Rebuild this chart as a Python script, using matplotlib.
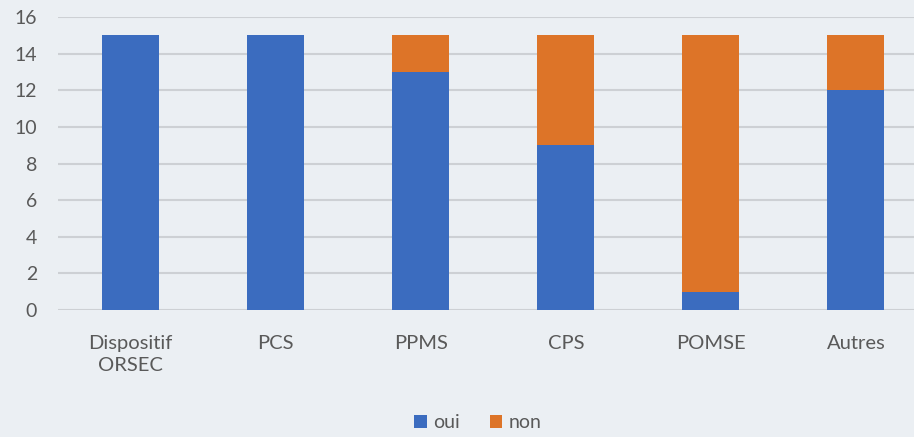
import matplotlib
matplotlib.use("Agg")
import matplotlib.pyplot as plt
import numpy as np

# Survey answers per planning document
categories = ["Dispositif\nORSEC", "PCS", "PPMS", "CPS", "POMSE", "Autres"]
oui = [15, 15, 13, 9, 1, 12]
non = [0, 0, 2, 6, 14, 3]

BLUE = "#3b6cbf"
ORANGE = "#dd7428"
BG = "#ebeff3"
TEXT = "#595959"

plt.rcParams["font.family"] = ["Lato", "DejaVu Sans"]

fig = plt.figure(figsize=(9.14, 4.37), dpi=100, facecolor=BG)
ax = fig.add_axes([58 / 914, 1 - 310 / 437, (914 - 58) / 914, (310 - 17) / 437])
ax.set_facecolor(BG)

x = np.arange(len(categories))
width = 0.393
ax.bar(x, oui, width, color=BLUE, label="oui", zorder=3)
ax.bar(x, non, width, bottom=oui, color=ORANGE, label="non", zorder=3)

ax.set_xlim(-0.5, 5.40)
ax.set_ylim(0, 16)
ax.set_yticks(range(0, 17, 2))
ax.yaxis.grid(True, color="#cdd0d4", linewidth=1.5, zorder=0)
ax.set_axisbelow(True)

for s in ax.spines.values():
    s.set_visible(False)
ax.tick_params(axis="both", length=0, colors=TEXT)
ax.tick_params(axis="y", pad=15, labelsize=14)
ax.tick_params(axis="x", pad=18, labelsize=14.5)
ax.set_xticks(x)
ax.set_xticklabels(categories, linespacing=1.35)

fig.legend(loc="center", bbox_to_anchor=(478 / 914, 1 - 423 / 437), ncol=2,
           frameon=False, fontsize=14, labelcolor=TEXT, handlelength=0.65,
           handleheight=0.65, handletextpad=0.35, columnspacing=1.5)

fig.savefig("out.png", dpi=100, facecolor=BG)
